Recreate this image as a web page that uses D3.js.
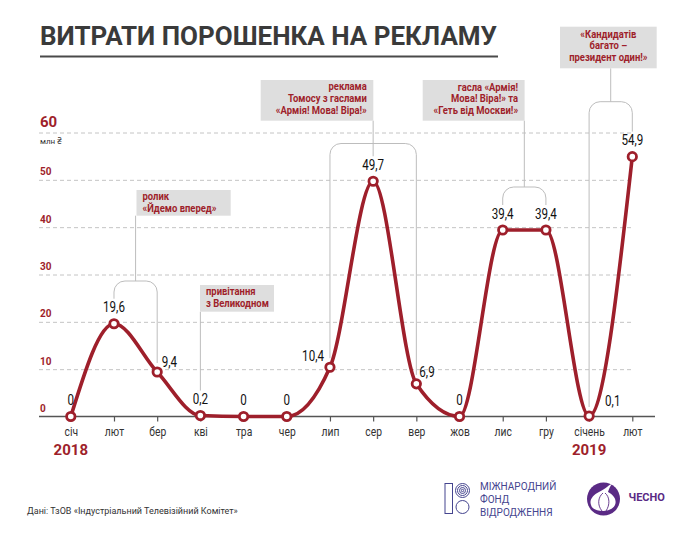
<!DOCTYPE html>
<html><head><meta charset="utf-8">
<script src="https://cdn.jsdelivr.net/npm/d3@7"></script>
<style>
html,body{margin:0;padding:0;background:#fff;}
svg{display:block;font-family:Roboto,"Noto Sans",sans-serif;}
</style></head>
<body>
<svg id="c" width="690" height="534"></svg>
<script>
// ---- data ----
const months = ["січ","лют","бер","кві","тра","чер","лип","сер","вер","жов","лис","гру","січень","лют"];
const values = [0,19.6,9.4,0.2,0,0,10.4,49.7,6.9,0,39.4,39.4,0.1,54.9];
const valueLabels = ["0","19,6","9,4","0,2","0","0","10,4","49,7","6,9","0","39,4","39,4","0,1","54,9"];
const yTicks = [0,10,20,30,40,50,60];
const years = ["2018","2019"];
const yearMonthIndex = [0,12];
const noteTexts = [
  ["ролик","«Йдемо вперед»"],
  ["привітання","з Великодном"],
  ["реклама","Томосу з гаслами","«Армія! Мова! Віра!»"],
  ["гасла «Армія!","Мова! Віра!» та","«Геть від Москви!»"],
  ["«Кандидатів","багато –","президент один!»"]
];
const noteMonths = [[1,2],[3],[6,8],[10,11],[12,13]];
const noteCenterMonth = [1.5,3,7,10.5,12.5];
const title = "ВИТРАТИ ПОРОШЕНКА НА РЕКЛАМУ";
const unit = "млн ₴";
const source = "Дані: ТзОВ «Індустріальний Телевізійний Комітет»";

// ---- layout / style ----
const RED = "#9e1f2b";
const svg = d3.select("#c");
const x = d3.scaleLinear().domain([0,13]).range([70.8,632.3]);
const y = d3.scaleLinear().domain([0,60]).range([416.5,132.5]);
const gridL = 39, gridR = 633, baseR = 655;

// label placement per point: [dx, dy, anchor]
const place = values.map(()=>[0,-11.5,"middle"]);
place[2] = [4.5,-5,"start"];
place[6] = [-6,-6,"end"];
place[8] = [3,-7,"start"];
place[12] = [16,-10.5,"start"];

// title
svg.append("text").attr("x",40).attr("y",45).attr("font-size",25).attr("font-weight",700)
  .attr("fill","#3a3a3a").attr("textLength",457).attr("lengthAdjust","spacingAndGlyphs").text(title);
svg.append("line").attr("x1",40).attr("x2",498).attr("y1",56.5).attr("y2",56.5)
  .attr("stroke","#4a4a4a").attr("stroke-width",2);

// gridlines
const gy = svg.append("g").attr("transform",`translate(${gridL},0)`)
  .call(d3.axisLeft(y).tickValues(yTicks.filter(d=>d>0)).tickSize(-(gridR-gridL)).tickFormat(""));
gy.select(".domain").remove();
gy.selectAll(".tick line").attr("stroke","#c4c4c4").attr("stroke-dasharray","4,3").attr("stroke-width",1);

// y labels
yTicks.forEach(t=>{
  const big = t===60;
  svg.append("text").attr("x",40).attr("y",y(t)-(big?5.5:4.5))
    .attr("font-size",big?15:10).attr("font-weight",700).attr("fill",RED).text(t);
});
svg.append("text").attr("x",40).attr("y",144).attr("font-size",8).attr("fill","#333").text(unit);

// x axis
const gx = svg.append("g").attr("transform",`translate(0,${y(0)})`)
  .call(d3.axisBottom(x).tickValues(d3.range(months.length)).tickFormat(i=>months[i]).tickSize(5).tickPadding(6));
gx.select(".domain").remove();
gx.selectAll(".tick line").attr("stroke","#555").attr("stroke-width",1.2);
gx.selectAll(".tick text").attr("font-size",12).attr("fill","#333").attr("font-family","Roboto")
  .attr("transform","scale(0.86,1)");
svg.append("line").attr("x1",gridL).attr("x2",baseR).attr("y1",y(0)).attr("y2",y(0))
  .attr("stroke","#555").attr("stroke-width",1.5);

// years
years.forEach((yr,i)=>{
  svg.append("text").attr("x",x(yearMonthIndex[i])).attr("y",455).attr("text-anchor","middle")
    .attr("font-size",15).attr("font-weight",700).attr("fill",RED).text(yr);
});

// annotation boxes
const boxes = [
  {x0:136.5,x1:230.7,y0:190,y1:215.7,anchor:"start",base:200},
  {x0:200,x1:274,y0:285,y1:311.7,anchor:"start",base:295},
  {x0:260.7,x1:373.3,y0:80,y1:120.7,anchor:"end",base:90},
  {x0:422.7,x1:524.6,y0:80,y1:120.7,anchor:"end",base:90.5},
  {x0:560,x1:656.7,y0:26.7,y1:68.3,anchor:"middle",base:37.5}
];
const bracketTop = [281,null,143.5,187,101.7];
const labelAbove = i => place[i][2]==="middle";
const endY = i => y(values[i]) - (labelAbove(i)?25:9);
const R = 11;
const lineG = svg.append("g").attr("fill","none").attr("stroke","#bdbdbd").attr("stroke-width",1);
noteMonths.forEach((ms,k)=>{
  const b = boxes[k];
  const cx = x(noteCenterMonth[k]);
  if(ms.length===1){
    lineG.append("line").attr("x1",cx).attr("x2",cx).attr("y1",b.y1).attr("y2",endY(ms[0]));
  } else {
    const top = bracketTop[k], xa = x(ms[0]), xb = x(ms[1]);
    const p = d3.path();
    p.moveTo(xa,endY(ms[0]));
    p.lineTo(xa,top+R);
    p.arcTo(xa,top,xa+R,top,R);
    p.lineTo(xb-R,top);
    p.arcTo(xb,top,xb,top+R,R);
    p.lineTo(xb,endY(ms[1]));
    lineG.append("path").attr("d",p.toString());
    const cm = noteCenterMonth[k];
    const stop = Number.isInteger(cm) ? endY(cm) : top;
    lineG.append("line").attr("x1",cx).attr("x2",cx).attr("y1",b.y1).attr("y2",stop);
  }
});
noteTexts.forEach((lines,k)=>{
  const b = boxes[k];
  svg.append("rect").attr("x",b.x0).attr("y",b.y0).attr("width",b.x1-b.x0).attr("height",b.y1-b.y0)
    .attr("fill","#dedede");
  const tx = b.anchor==="start"? b.x0+6 : b.anchor==="end"? b.x1-6.5 : (b.x0+b.x1)/2;
  lines.forEach((ln,j)=>{
    svg.append("g").attr("transform",`translate(${tx},${b.base+j*11.8})`)
      .append("text").attr("transform","scale(0.9,1)").attr("text-anchor",b.anchor)
      .attr("font-size",10.5).attr("font-weight",700).attr("fill",RED).text(ln);
  });
});

// line
const line = d3.line().x((d,i)=>x(i)).y(d=>y(d)).curve(d3.curveMonotoneX);
svg.append("path").datum(values).attr("d",line).attr("fill","none")
  .attr("stroke",RED).attr("stroke-width",3.6).attr("stroke-linecap","round");
svg.selectAll("circle.pt").data(values).join("circle").attr("class","pt")
  .attr("cx",(d,i)=>x(i)).attr("cy",d=>y(d)).attr("r",4.2)
  .attr("fill","#fff").attr("stroke",RED).attr("stroke-width",2.8);

// value labels
values.forEach((v,i)=>{
  const [dx,dy,a] = place[i];
  svg.append("g").attr("transform",`translate(${x(i)+dx},${y(v)+dy})`)
    .append("text").attr("transform","scale(0.8,1)").attr("text-anchor",a)
    .attr("font-size",14.5).attr("font-weight",400).attr("fill","#111").text(valueLabels[i]);
});

// footer
svg.append("text").attr("x",27).attr("y",514).attr("font-size",9).attr("fill","#333").text(source);

// IRF logo
const BLUE = "#45458f";
const lg = svg.append("g").attr("fill","none").attr("stroke",BLUE).attr("stroke-width",1);
lg.append("rect").attr("x",445).attr("y",483.5).attr("width",7.5).attr("height",30);
[7,5,3,1.2].forEach(r=>lg.append("circle").attr("cx",462.5).attr("cy",490.5).attr("r",r));
lg.append("circle").attr("cx",462.5).attr("cy",507).attr("r",6.5);
["МІЖНАРОДНИЙ","ФОНД","ВІДРОДЖЕННЯ"].forEach((t,i)=>{
  svg.append("text").attr("x",480).attr("y",489.5+i*13.3).attr("font-size",10).attr("fill",BLUE).text(t);
});

// Chesno logo
const PUR = "#5a2a85";
svg.append("circle").attr("cx",603.5).attr("cy",499).attr("r",16.5).attr("fill",PUR);
svg.append("path").attr("fill","#fff")
  .attr("d","M607,487 C609,485 611,484 612,484 C610,486 609,489 608,492 C614,495 617,500 615,505 C613,509 608,511 603,511 C597,511 592,509 591,505 C589,500 593,495 599,492 C602,490 605,489 607,487 Z");
svg.append("path").attr("fill","none").attr("stroke",PUR).attr("stroke-width",0.9)
  .attr("d","M603,493 C598,497 597,505 602,511 M605,493 C610,497 610,505 606,511");
svg.append("text").attr("x",628.5).attr("y",501).attr("font-size",11).attr("font-weight",700).attr("fill",PUR).text("ЧЕСНО");
</script>
</body></html>
